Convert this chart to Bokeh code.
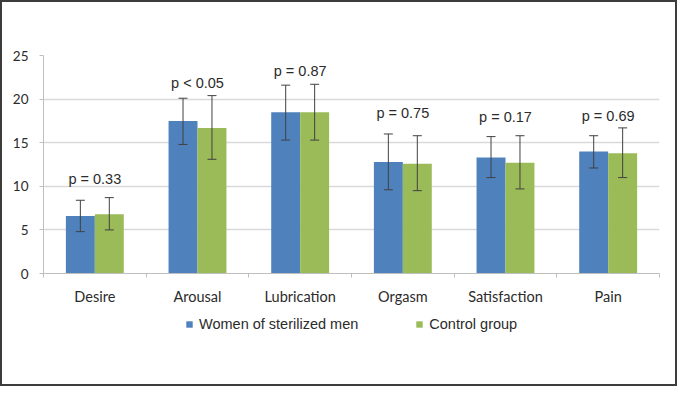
from bokeh.plotting import figure
from bokeh.layouts import column
from bokeh.models import (ColumnDataSource, Range1d, FixedTicker, Whisker, TeeHead,
                          Legend, LegendItem)
from bokeh.transform import dodge
from bokeh.core.properties import value
from bokeh.embed import file_html
from bokeh.resources import INLINE

# ---- data ----
categories = ["Desire", "Arousal", "Lubrication", "Orgasm", "Satisfaction", "Pain"]
sterilized_mean = [6.6, 17.5, 18.5, 12.8, 13.3, 14.0]
sterilized_low = [4.8, 14.8, 15.3, 9.6, 11.0, 12.1]
sterilized_high = [8.4, 20.1, 21.6, 16.0, 15.7, 15.8]
control_mean = [6.8, 16.7, 18.5, 12.6, 12.7, 13.8]
control_low = [5.0, 13.1, 15.3, 9.5, 9.7, 11.0]
control_high = [8.7, 20.4, 21.7, 15.8, 15.8, 16.7]
p_values = ["p = 0.33", "p < 0.05", "p = 0.87", "p = 0.75", "p = 0.17", "p = 0.69"]
p_label_y = [10.8, 21.8, 23.2, 18.4, 18.0, 18.1]
y_ticks = [0, 5, 10, 15, 20, 25]
series_names = ["Women of sterilized men", "Control group"]

BLUE = "#4F81BD"
GREEN = "#9BBB59"
TXT = "#2b2b2b"
GRID = "#d9d9d9"
AX = "#bfbfbf"

xc = [i + 0.5 for i in range(len(categories))]
src = ColumnDataSource(dict(
    x=xc, cat=categories,
    s_mean=sterilized_mean, s_low=sterilized_low, s_high=sterilized_high,
    c_mean=control_mean, c_low=control_low, c_high=control_high,
    p=p_values, py=p_label_y,
))

W = 673
p = figure(width=W, frame_height=218, output_backend="svg",
           toolbar_location=None,
           x_range=Range1d(0, len(categories)), y_range=Range1d(0, 25),
           min_border_left=41, min_border_right=16, min_border_top=53,
           min_border_bottom=32)
p.outline_line_color = None
p.background_fill_color = "white"
p.border_fill_color = "white"

bw = 0.282
p.vbar(x=dodge("x", -bw / 2, range=p.x_range), top="s_mean", width=bw,
       source=src, fill_color=BLUE, line_color=None)
p.vbar(x=dodge("x", bw / 2, range=p.x_range), top="c_mean", width=bw,
       source=src, fill_color=GREEN, line_color=None)

for off, lo, hi in [(-bw / 2, "s_low", "s_high"), (bw / 2, "c_low", "c_high")]:
    w = Whisker(base=dodge("x", off, range=p.x_range), lower=lo, upper=hi, source=src,
                line_color="#404040", line_width=1, level="annotation",
                upper_head=TeeHead(size=9, line_color="#404040", line_width=1),
                lower_head=TeeHead(size=9, line_color="#404040", line_width=1))
    p.add_layout(w)

p.text(x="x", y="py", text="p", source=src, text_align="center",
       text_baseline="middle", text_font=value("Liberation Sans"),
       text_font_size="14.5px", text_color=TXT)

# axes
p.xgrid.grid_line_color = None
p.ygrid.grid_line_color = GRID
p.ygrid.grid_line_width = 1.5
p.ygrid.ticker = FixedTicker(ticks=y_ticks)

xa = p.xaxis[0]
xa.ticker = FixedTicker(ticks=xc, minor_ticks=list(range(len(categories) + 1)))
xa.major_label_overrides = {x: c for x, c in zip(xc, categories)}
xa.major_tick_line_color = None
xa.minor_tick_line_color = AX
xa.minor_tick_out = 4
xa.minor_tick_in = 0
xa.axis_line_color = AX
xa.major_label_text_font = "Lato"
xa.major_label_text_font_size = "14.5px"
xa.major_label_text_color = TXT
xa.major_label_standoff = 8

ya = p.yaxis[0]
ya.ticker = FixedTicker(ticks=y_ticks)
ya.minor_tick_line_color = None
ya.major_tick_line_color = AX
ya.major_tick_out = 4
ya.major_tick_in = 0
ya.axis_line_color = AX
ya.major_label_text_font = "Lato"
ya.major_label_text_font_size = "13.5px"
ya.major_label_text_color = TXT
ya.major_label_standoff = 11

# legend strip under the chart (its swatch bars have zero width and lie outside its view)
pl = figure(width=W, height=77, output_backend="svg", toolbar_location=None,
            x_range=Range1d(100, 101), y_range=Range1d(100, 101), min_border=0,
            x_axis_location=None, y_axis_location=None)
pl.grid.visible = False
pl.outline_line_color = None
pl.background_fill_color = "white"
pl.border_fill_color = "white"
l1 = pl.vbar(x="x", top="s_mean", width=0, source=src, fill_color=BLUE, line_color=None)
l2 = pl.vbar(x="x", top="c_mean", width=0, source=src, fill_color=GREEN, line_color=None)

legend = Legend(items=[LegendItem(label=series_names[0], renderers=[l1]),
                       LegendItem(label=series_names[1], renderers=[l2])],
                orientation="horizontal", location=(142, 52),
                glyph_width=8, glyph_height=8, label_standoff=6, spacing=57,
                label_text_font="Liberation Sans", label_text_font_size="14.5px",
                label_text_color=TXT, border_line_color=None,
                background_fill_alpha=0, margin=0, padding=5)
pl.add_layout(legend, "center")

layout = column(p, pl, spacing=0)
layout.styles = {"border": "2px solid #3c3c3c", "background-color": "white"}

open("out.html", "w").write(file_html(layout, INLINE))
